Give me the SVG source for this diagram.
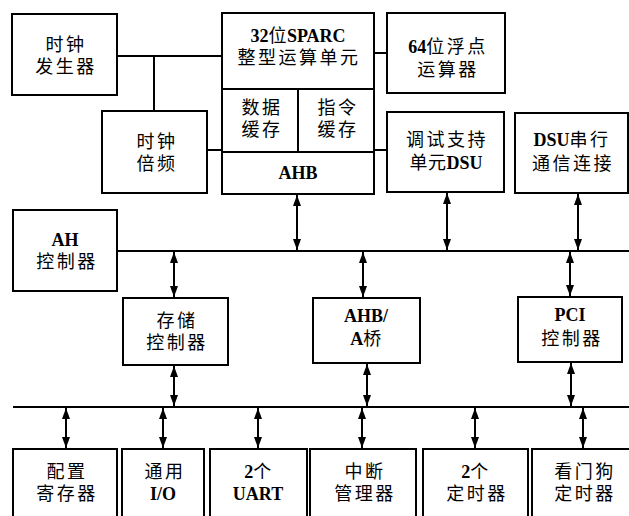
<svg xmlns="http://www.w3.org/2000/svg" width="629" height="516" viewBox="0 0 629 516">
<style>
.b{fill:#fff;stroke:#000;stroke-width:2}
.l{fill:none;stroke:#000;stroke-width:2}
.a{fill:none;stroke:#000;stroke-width:2;marker-start:url(#ah);marker-end:url(#ah)}
text{font-family:"Liberation Serif","DejaVu Serif","Noto Sans CJK SC",serif;font-size:18px;letter-spacing:2.5px;text-anchor:middle;dominant-baseline:central;fill:#000}
.e{font-weight:bold;letter-spacing:0}
.m{letter-spacing:0.5px}
</style>
<defs>
<marker id="ah" markerUnits="userSpaceOnUse" markerWidth="12" markerHeight="8" refX="11" refY="4" orient="auto-start-reverse">
<path d="M0,0 L11,4 L0,8 z" fill="#000"/>
</marker>
</defs>
<rect width="629" height="516" fill="#fff"/>
<g id="connectors">
<path class="l" d="M117,56 H222 M154,56 V111 M207,150 H222 M374,53 H387 M374,150 H387"/>
<path class="l" d="M117,251 H629 M13,407 H629"/>
<path class="a" d="M297,195 V250"/>
<path class="a" d="M447,193 V250"/>
<path class="a" d="M578,194 V250"/>
<path class="a" d="M174,252 V297"/>
<path class="a" d="M363,252 V297"/>
<path class="a" d="M570,252 V296"/>
<path class="a" d="M174,366 V406"/>
<path class="a" d="M367,364 V406"/>
<path class="a" d="M571,363 V406"/>
<path class="a" d="M66,408 V448"/>
<path class="a" d="M163,408 V448"/>
<path class="a" d="M258,408 V448"/>
<path class="a" d="M362,408 V448"/>
<path class="a" d="M475,408 V448"/>
<path class="a" d="M583,408 V448"/>
</g>
<g id="clockgen"><rect class="b" x="12" y="14" width="105" height="81"/><text x="66" y="45">时钟</text><text x="66" y="67">发生器</text></g>
<g id="cpu">
<rect class="b" x="222" y="13" width="152" height="181"/>
<path class="l" d="M222,89 H374 M298,89 V152 M222,152 H374"/>
<text x="298" y="36" class="m"><tspan class="e">32</tspan>位<tspan class="e">SPARC</tspan></text>
<text x="299" y="58">整型运算单元</text>
<text x="262" y="108">数据</text><text x="262" y="130">缓存</text>
<text x="338" y="108">指令</text><text x="338" y="130">缓存</text>
<text x="298" y="173" class="e">AHB</text>
</g>
<g id="clockmul"><rect class="b" x="102" y="111" width="105" height="82"/><text x="157" y="142">时钟</text><text x="157" y="164">倍频</text></g>
<g id="fpu"><rect class="b" x="387" y="13" width="118" height="80"/><text x="448" y="47"><tspan class="e">64</tspan>位浮点</text><text x="448" y="70">运算器</text></g>
<g id="dsu"><rect class="b" x="387" y="112" width="117" height="80"/><text x="447" y="140">调试支持</text><text x="446" y="163" class="m">单元<tspan class="e">DSU</tspan></text></g>
<g id="dsuserial"><rect class="b" x="515" y="113" width="113" height="80"/><text x="572" y="140"><tspan class="e">DSU</tspan>串行</text><text x="573" y="164">通信连接</text></g>
<g id="ahctrl"><rect class="b" x="13" y="210" width="104" height="81"/><text x="65" y="240" class="e">AH</text><text x="67" y="262">控制器</text></g>
<g id="memctrl"><rect class="b" x="123" y="298" width="105" height="67"/><text x="177" y="321">存储</text><text x="177" y="343">控制器</text></g>
<g id="bridge"><rect class="b" x="313" y="298" width="107" height="65"/><text x="366" y="316" class="e">AHB/</text><text x="366" y="339" class="m"><tspan class="e">A</tspan>桥</text></g>
<g id="pci"><rect class="b" x="518" y="297" width="104" height="65"/><text x="570" y="315" class="e">PCI</text><text x="572" y="339">控制器</text></g>
<g id="cfgreg"><path class="l" d="M13,517 V449 H117 V517"/><text x="67" y="472">配置</text><text x="67" y="494">寄存器</text></g>
<g id="gpio"><path class="l" d="M122,517 V449 H204 V517"/><text x="165" y="472">通用</text><text x="163" y="494" class="e">I/O</text></g>
<g id="uart"><path class="l" d="M210,517 V449 H307 V517"/><text x="259" y="472"><tspan class="e">2</tspan>个</text><text x="258" y="494" class="e">UART</text></g>
<g id="irq"><path class="l" d="M310,517 V449 H416 V517"/><text x="365" y="472">中断</text><text x="365" y="494">管理器</text></g>
<g id="timers"><path class="l" d="M423,517 V449 H528 V517"/><text x="476" y="472"><tspan class="e">2</tspan>个</text><text x="477" y="494">定时器</text></g>
<g id="watchdog"><path class="l" d="M532,517 V449 H630"/><text x="585" y="472">看门狗</text><text x="585" y="494">定时器</text></g>
</svg>
